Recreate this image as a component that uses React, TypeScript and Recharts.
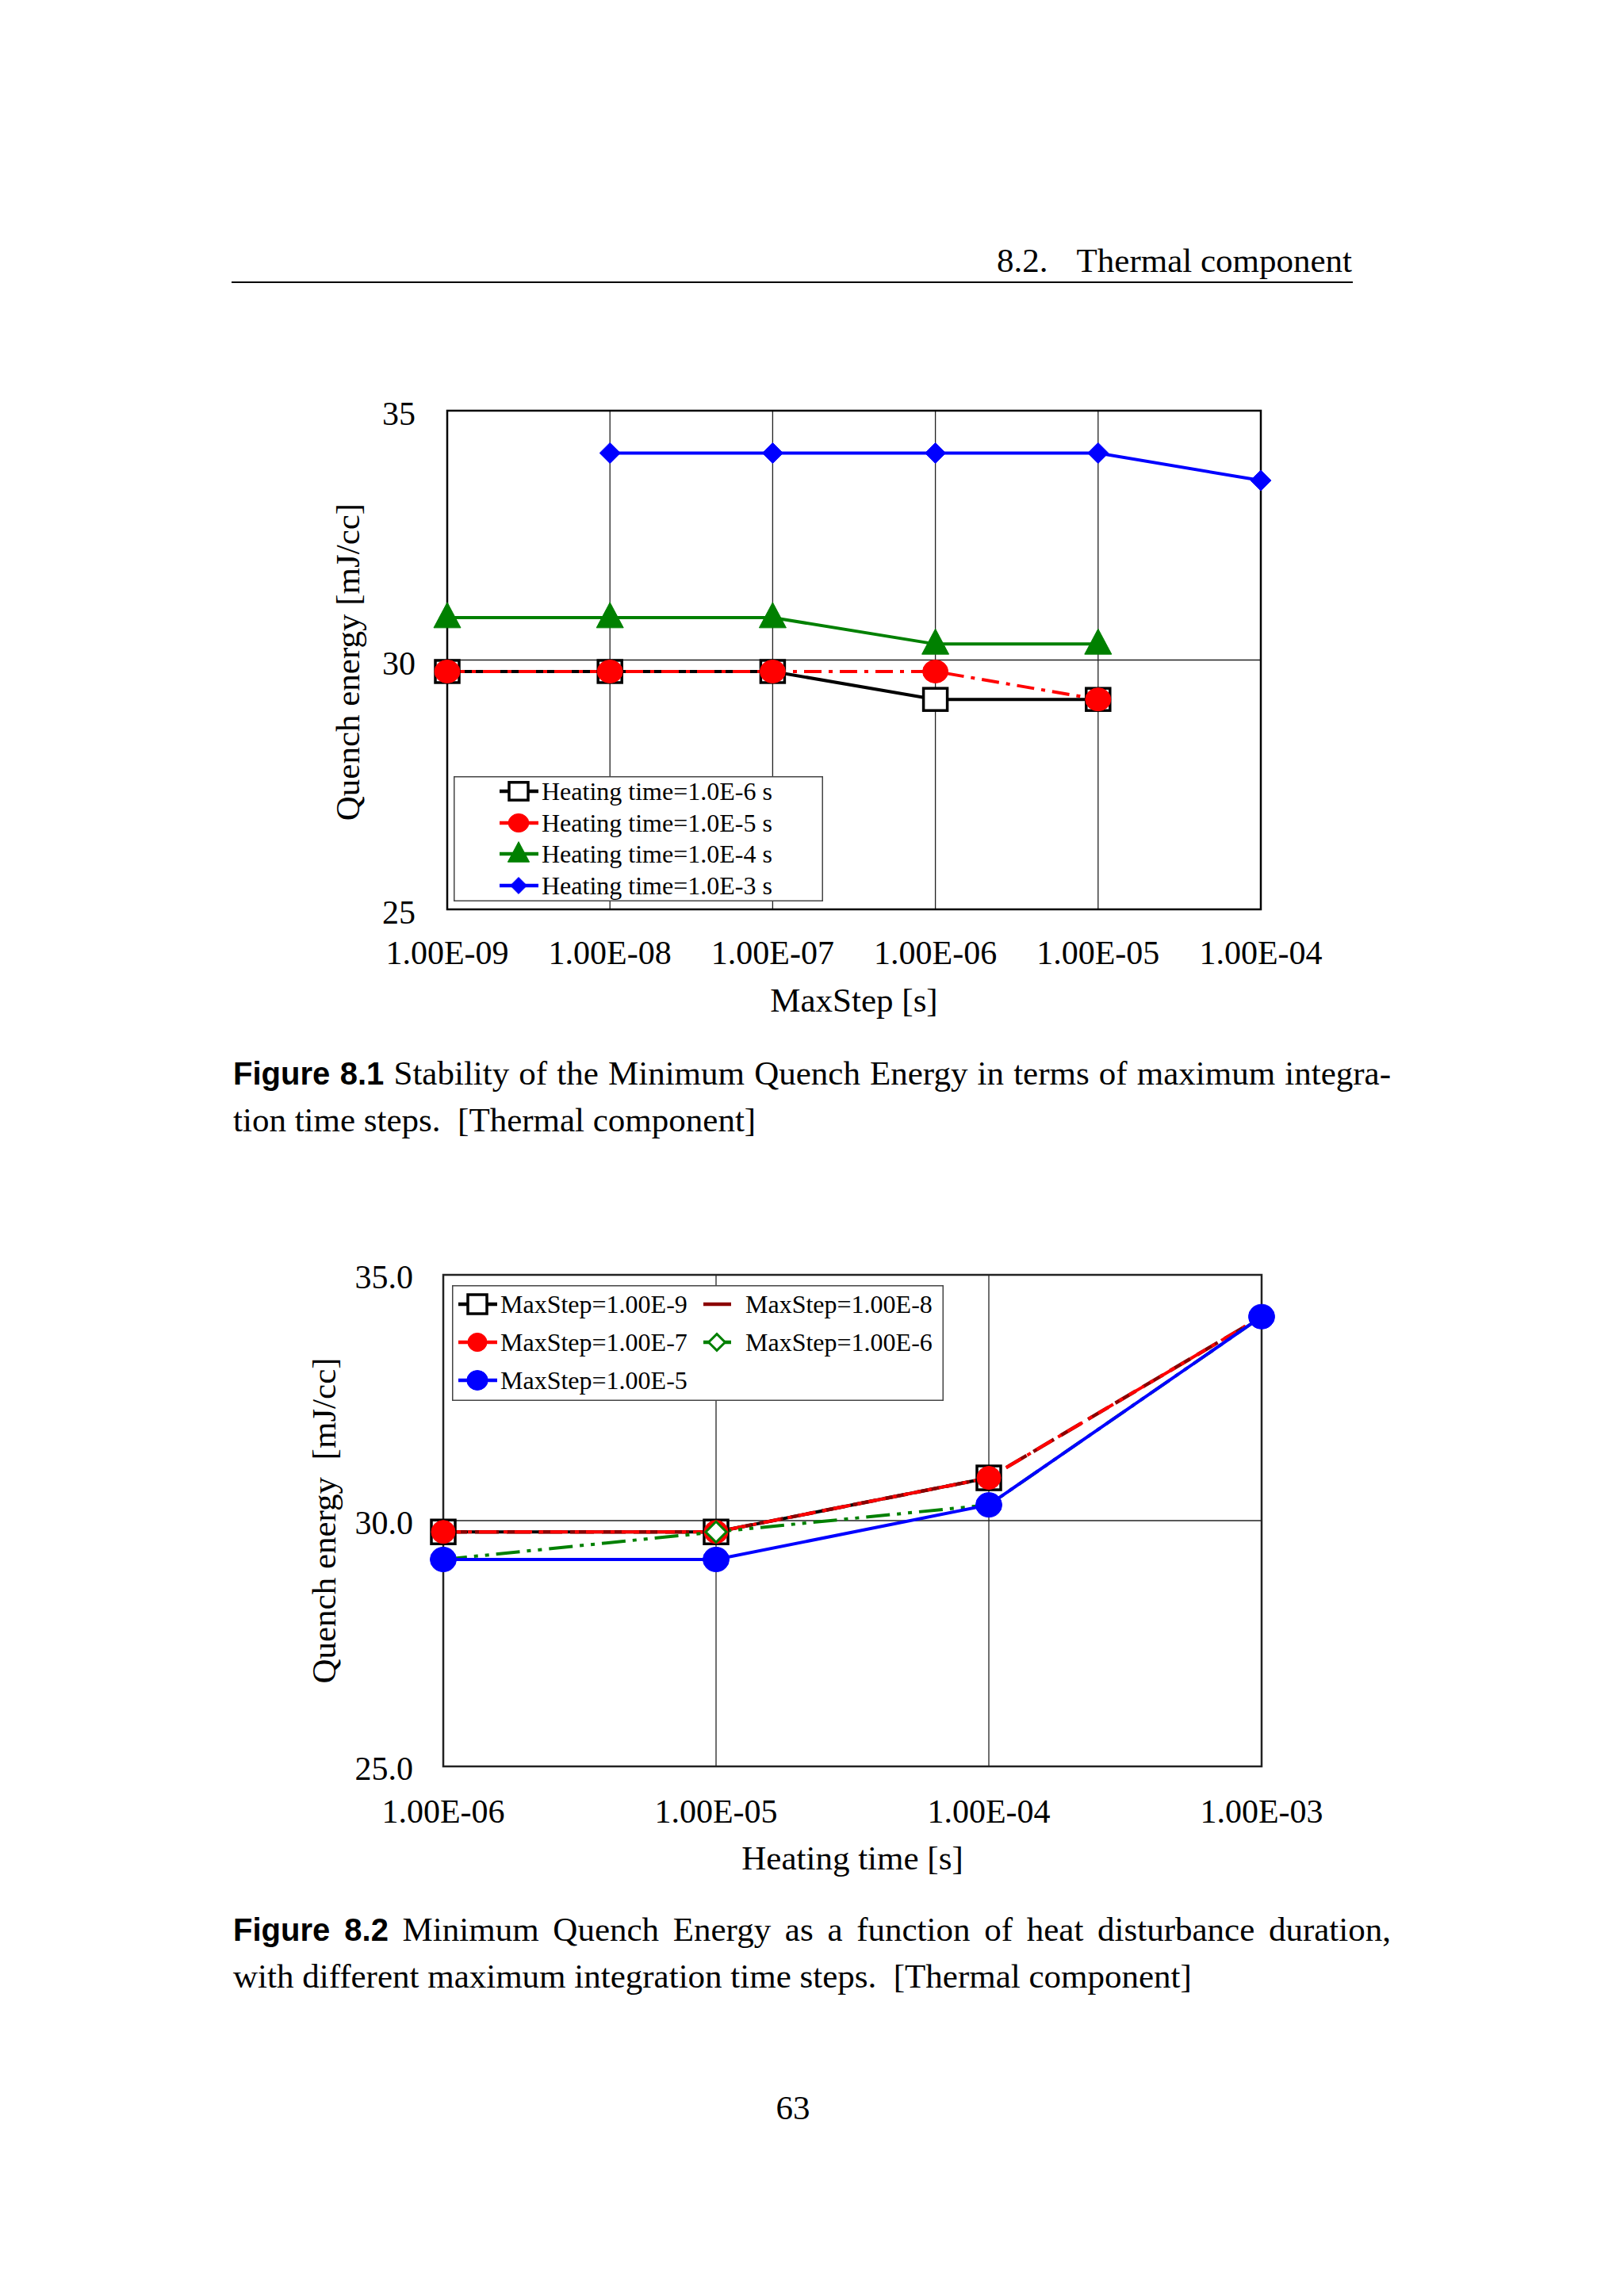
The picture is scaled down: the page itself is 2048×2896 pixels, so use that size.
import React from 'react';
import { LineChart, Line, XAxis, YAxis, CartesianGrid, ReferenceArea, Legend, Label } from 'recharts';

// ---------- Figure 8.1 data ----------
const maxSteps = [1e-9, 1e-8, 1e-7, 1e-6, 1e-5, 1e-4];
const maxStepTickLabels = ['1.00E-09', '1.00E-08', '1.00E-07', '1.00E-06', '1.00E-05', '1.00E-04'];
const qeHeat1e6 = [29.77, 29.77, 29.77, 29.21, 29.21, null];
const qeHeat1e5 = [29.77, 29.77, 29.77, 29.77, 29.21, null];
const qeHeat1e4 = [30.85, 30.85, 30.85, 30.32, 30.32, null];
const qeHeat1e3 = [null, 34.15, 34.15, 34.15, 34.15, 33.6];
const fig1SeriesNames = ['Heating time=1.0E-6 s', 'Heating time=1.0E-5 s', 'Heating time=1.0E-4 s', 'Heating time=1.0E-3 s'];
const fig1YTicks = [25, 30, 35];
const fig1YTickLabels = ['25', '30', '35'];

// ---------- Figure 8.2 data ----------
const heatingTimes = [1e-6, 1e-5, 1e-4, 1e-3];
const heatingTickLabels = ['1.00E-06', '1.00E-05', '1.00E-04', '1.00E-03'];
const qeStep1e9 = [29.77, 29.77, 30.87, null];
const qeStep1e8 = [29.77, 29.77, 30.87, 34.15];
const qeStep1e7 = [29.77, 29.77, 30.87, 34.15];
const qeStep1e6 = [29.21, 29.77, 30.32, 34.15];
const qeStep1e5 = [29.21, 29.21, 30.32, 34.15];
const fig2SeriesNames = ['MaxStep=1.00E-9', 'MaxStep=1.00E-8', 'MaxStep=1.00E-7', 'MaxStep=1.00E-6', 'MaxStep=1.00E-5'];
const fig2YTicks = [25, 30, 35];
const fig2YTickLabels = ['25.0', '30.0', '35.0'];

const fig1Data = maxSteps.map((x, i) => ({ x, s1: qeHeat1e6[i], s2: qeHeat1e5[i], s3: qeHeat1e4[i], s4: qeHeat1e3[i] }));
const fig2Data = heatingTimes.map((x, i) => ({ x, a: qeStep1e9[i], b: qeStep1e8[i], c: qeStep1e7[i], d: qeStep1e6[i], e: qeStep1e5[i] }));

const SERIF = '"Liberation Serif", "Times New Roman", serif';
const SANS = '"Liberation Sans", Arial, sans-serif';

type MarkerOpt = { shape: string; w: number; h: number; fill: string; stroke: string; sw: number };

function marker(o: MarkerOpt, cx: number, cy: number) {
  const { shape, w, h, fill, stroke, sw } = o;
  if (shape === 'square') return <rect x={cx - w / 2} y={cy - h / 2} width={w} height={h} fill={fill} stroke={stroke} strokeWidth={sw} />;
  if (shape === 'circle') return <ellipse cx={cx} cy={cy} rx={w / 2} ry={h / 2} fill={fill} stroke={stroke} strokeWidth={sw} />;
  if (shape === 'triangle')
    return <polygon points={`${cx},${cy - h * 0.6} ${cx - w / 2},${cy + h * 0.4} ${cx + w / 2},${cy + h * 0.4}`} fill={fill} stroke={stroke} strokeWidth={sw} />;
  if (shape === 'diamond')
    return <polygon points={`${cx},${cy - h / 2} ${cx + w / 2},${cy} ${cx},${cy + h / 2} ${cx - w / 2},${cy}`} fill={fill} stroke={stroke} strokeWidth={sw} />;
  return null;
}

const makeDot = (o: MarkerOpt | null) => (props: any) => {
  const { cx, cy, index, value, payload, dataKey } = props;
  const v = payload && dataKey ? payload[dataKey] : value;
  if (!o || cx == null || cy == null || v == null || Number.isNaN(cy)) return <g key={`n-${index}`} />;
  return <g key={`m-${index}`}>{marker(o, cx, cy)}</g>;
};

const makeXTick = (labels: string[], dy: number) => (props: any) => {
  const { x, y, index } = props;
  return (
    <text x={x} y={y + dy} textAnchor="middle" fontFamily={SERIF} fontSize={42} fill="#000">
      {labels[index]}
    </text>
  );
};

const makeYTick = (labels: string[], dx: number, dy: number) => (props: any) => {
  const { x, y, index } = props;
  return (
    <text x={x - dx} y={y + dy} textAnchor="end" fontFamily={SERIF} fontSize={42} fill="#000">
      {labels[index]}
    </text>
  );
};

// ---------- styling ----------
const fig1Styles = [
  { key: 's1', color: '#000000', width: 4, dash: undefined, m: { shape: 'square', w: 30, h: 28, fill: '#ffffff', stroke: '#000000', sw: 3.5 } },
  { key: 's2', color: '#ff0000', width: 4, dash: '22 9 5 9', m: { shape: 'circle', w: 32, h: 29, fill: '#ff0000', stroke: '#ff0000', sw: 1 } },
  { key: 's3', color: '#008000', width: 4, dash: undefined, m: { shape: 'triangle', w: 34, h: 32, fill: '#008000', stroke: '#008000', sw: 1 } },
  { key: 's4', color: '#0000ff', width: 4, dash: undefined, m: { shape: 'diamond', w: 26, h: 26, fill: '#0000ff', stroke: '#0000ff', sw: 1 } },
];

const fig2Styles = [
  { key: 'a', color: '#000000', width: 4, dash: undefined, m: { shape: 'square', w: 30, h: 30, fill: '#ffffff', stroke: '#000000', sw: 3.5 } as MarkerOpt | null },
  { key: 'b', color: '#8b0000', width: 4.5, dash: '30 10', m: null },
  { key: 'c', color: '#ff0000', width: 4, dash: '22 9 5 9', m: { shape: 'circle', w: 30, h: 29, fill: '#ff0000', stroke: '#ff0000', sw: 1 } },
  { key: 'd', color: '#008000', width: 4, dash: '30 9 5 9 5 9', m: { shape: 'diamond', w: 26, h: 26, fill: '#ffffff', stroke: '#008000', sw: 3 } },
  { key: 'e', color: '#0000ff', width: 4, dash: undefined, m: { shape: 'circle', w: 33, h: 31, fill: '#0000ff', stroke: '#0000ff', sw: 1 } },
];

const legendMarker = (m: MarkerOpt | null, cx: number, cy: number, scale: number) =>
  m ? marker({ ...m, w: m.w * scale, h: m.h * scale, sw: Math.min(m.sw, 3.5) }, cx, cy) : null;

const Legend1Box = () => {
  const rows = [19, 59, 98, 138];
  return (
    <svg width={466} height={158} style={{ display: 'block' }}>
      <rect x={0.75} y={0.75} width={464.5} height={156.5} fill="#ffffff" stroke="#444" strokeWidth={1.5} />
      {fig1Styles.map((s, i) => (
        <g key={s.key}>
          <line x1={58} x2={107} y1={rows[i]} y2={rows[i]} stroke={s.color} strokeWidth={4.5} />
          {legendMarker(s.m, 82, rows[i], 0.8)}
          <text x={111} y={rows[i] + 11} fontFamily={SERIF} fontSize={32} fill="#000">
            {fig1SeriesNames[i]}
          </text>
        </g>
      ))}
    </svg>
  );
};

const Legend2Box = () => {
  const pos = [
    { x1: 8, x2: 57, mx: 32, tx: 61, cy: 24 },
    { x1: 317, x2: 352, mx: 334, tx: 370, cy: 24 },
    { x1: 8, x2: 57, mx: 32, tx: 61, cy: 72 },
    { x1: 317, x2: 352, mx: 334, tx: 370, cy: 72 },
    { x1: 8, x2: 57, mx: 32, tx: 61, cy: 120 },
  ];
  return (
    <svg width={620} height={146} style={{ display: 'block' }}>
      <rect x={0.75} y={0.75} width={618.5} height={144.5} fill="#ffffff" stroke="#444" strokeWidth={1.5} />
      {fig2Styles.map((s, i) => {
        const p = pos[i];
        return (
          <g key={s.key}>
            <line x1={p.x1} x2={p.x2} y1={p.cy} y2={p.cy} stroke={s.color} strokeWidth={4.5} />
            {legendMarker(s.m, p.mx, p.cy, 0.8)}
            <text x={p.tx} y={p.cy + 11} fontFamily={SERIF} fontSize={32} fill="#000">
              {fig2SeriesNames[i]}
            </text>
          </g>
        );
      })}
    </svg>
  );
};

const Figure1 = () => (
  <LineChart width={1300} height={860} data={fig1Data} margin={{ top: 58, right: 90, bottom: 0, left: 0 }}>
    <CartesianGrid stroke="#222" strokeWidth={1.3} />
    <XAxis
      dataKey="x"
      type="number"
      scale="log"
      domain={[1e-9, 1e-4]}
      ticks={maxSteps}
      interval={0}
      height={173}
      axisLine={false}
      tickLine={false}
      tickSize={0}
      tickMargin={0}
      tick={makeXTick(maxStepTickLabels, 69)}
    >
      <Label
        content={() => (
          <text x={697} y={816} textAnchor="middle" fontFamily={SERIF} fontSize={43} fill="#000">
            MaxStep [s]
          </text>
        )}
      />
    </XAxis>
    <YAxis
      type="number"
      domain={[25, 35]}
      ticks={fig1YTicks}
      interval={0}
      width={184}
      axisLine={false}
      tickLine={false}
      tickSize={0}
      tickMargin={0}
      tick={makeYTick(fig1YTickLabels, 40, 18)}
    >
      <Label
        content={() => (
          <text transform="translate(73,375) rotate(-90)" textAnchor="middle" fontFamily={SERIF} fontSize={43} fill="#000">
            Quench energy [mJ/cc]
          </text>
        )}
      />
    </YAxis>
    <ReferenceArea x1={1e-9} x2={1e-4} y1={25} y2={35} fill="none" stroke="#000" strokeWidth={2.5} ifOverflow="visible" />
    {fig1Styles.map((s) => (
      <Line
        key={s.key}
        dataKey={s.key}
        stroke={s.color}
        strokeWidth={s.width}
        strokeDasharray={s.dash}
        dot={makeDot(s.m as MarkerOpt)}
        activeDot={false}
        isAnimationActive={false}
        connectNulls={false}
      />
    ))}
    <Legend
      layout="horizontal"
      verticalAlign="middle"
      align="center"
      content={() => <Legend1Box />}
      wrapperStyle={{ position: 'absolute', left: 192, top: 519, width: 466, height: 158 }}
    />
  </LineChart>
);

const Figure2 = () => (
  <LineChart width={1300} height={860} data={fig2Data} margin={{ top: 58, right: 89, bottom: 0, left: 0 }}>
    <CartesianGrid stroke="#222" strokeWidth={1.3} />
    <XAxis
      dataKey="x"
      type="number"
      scale="log"
      domain={[1e-6, 1e-3]}
      ticks={heatingTimes}
      interval={0}
      height={182}
      axisLine={false}
      tickLine={false}
      tickSize={0}
      tickMargin={0}
      tick={makeXTick(heatingTickLabels, 71)}
    >
      <Label
        content={() => (
          <text x={695} y={808} textAnchor="middle" fontFamily={SERIF} fontSize={43} fill="#000">
            Heating time [s]
          </text>
        )}
      />
    </XAxis>
    <YAxis
      type="number"
      domain={[25, 35]}
      ticks={fig2YTicks}
      interval={0}
      width={179}
      axisLine={false}
      tickLine={false}
      tickSize={0}
      tickMargin={0}
      tick={makeYTick(fig2YTickLabels, 38, 17)}
    >
      <Label
        content={() => (
          <text transform="translate(43,368) rotate(-90)" textAnchor="middle" fontFamily={SERIF} fontSize={43} fill="#000" style={{ whiteSpace: 'pre' }}>
            {'Quench energy  [mJ/cc]'}
          </text>
        )}
      />
    </YAxis>
    <ReferenceArea x1={1e-6} x2={1e-3} y1={25} y2={35} fill="none" stroke="#222" strokeWidth={2.5} ifOverflow="visible" />
    {fig2Styles.map((s) => (
      <Line
        key={s.key}
        dataKey={s.key}
        stroke={s.color}
        strokeWidth={s.width}
        strokeDasharray={s.dash}
        dot={makeDot(s.m)}
        activeDot={false}
        isAnimationActive={false}
        connectNulls={false}
      />
    ))}
    <Legend
      layout="horizontal"
      verticalAlign="middle"
      align="center"
      content={() => <Legend2Box />}
      wrapperStyle={{ position: 'absolute', left: 190, top: 71, width: 620, height: 146 }}
    />
  </LineChart>
);

const lineStyle = (top: number, justify: boolean): React.CSSProperties => ({
  position: 'absolute',
  left: 294,
  top,
  width: 1460,
  fontFamily: SERIF,
  fontSize: 43,
  lineHeight: '43px',
  color: '#000',
  textAlign: justify ? 'justify' : 'left',
  textAlignLast: justify ? 'justify' : 'left',
} as React.CSSProperties);

const figLabel: React.CSSProperties = { fontFamily: SANS, fontWeight: 'bold', fontSize: 40 };

export default function App() {
  return (
    <div style={{ position: 'relative', width: 2048, height: 2896, margin: -8, background: '#ffffff', overflow: 'hidden' }}>
      {/* running header */}
      <div style={{ position: 'absolute', left: 1257, top: 343 - 36, fontFamily: SERIF, fontSize: 43, lineHeight: '43px', whiteSpace: 'pre' }}>
        8.2.
      </div>
      <div style={{ position: 'absolute', right: 2048 - 1705, top: 343 - 36, fontFamily: SERIF, fontSize: 43, lineHeight: '43px', whiteSpace: 'pre' }}>
        Thermal component
      </div>
      <div style={{ position: 'absolute', left: 292, top: 355, width: 1414, height: 2, background: '#000' }} />

      <div style={{ position: 'absolute', left: 380, top: 460 }}>
        <Figure1 />
      </div>

      <div style={lineStyle(1368 - 36, true)}>
        <span style={figLabel}>Figure 8.1</span> Stability of the Minimum Quench Energy in terms of maximum integra-
      </div>
      <div style={lineStyle(1427 - 36, false)}>tion time steps.&nbsp; [Thermal component]</div>

      <div style={{ position: 'absolute', left: 380, top: 1550 }}>
        <Figure2 />
      </div>

      <div style={lineStyle(2448 - 36, true)}>
        <span style={figLabel}>Figure 8.2</span> Minimum Quench Energy as a function of heat disturbance duration,
      </div>
      <div style={lineStyle(2507 - 36, false)}>with different maximum integration time steps.&nbsp; [Thermal component]</div>

      <div style={{ position: 'absolute', left: 0, width: 2000, top: 2673 - 36, textAlign: 'center', fontFamily: SERIF, fontSize: 43, lineHeight: '43px' }}>
        63
      </div>
    </div>
  );
}
